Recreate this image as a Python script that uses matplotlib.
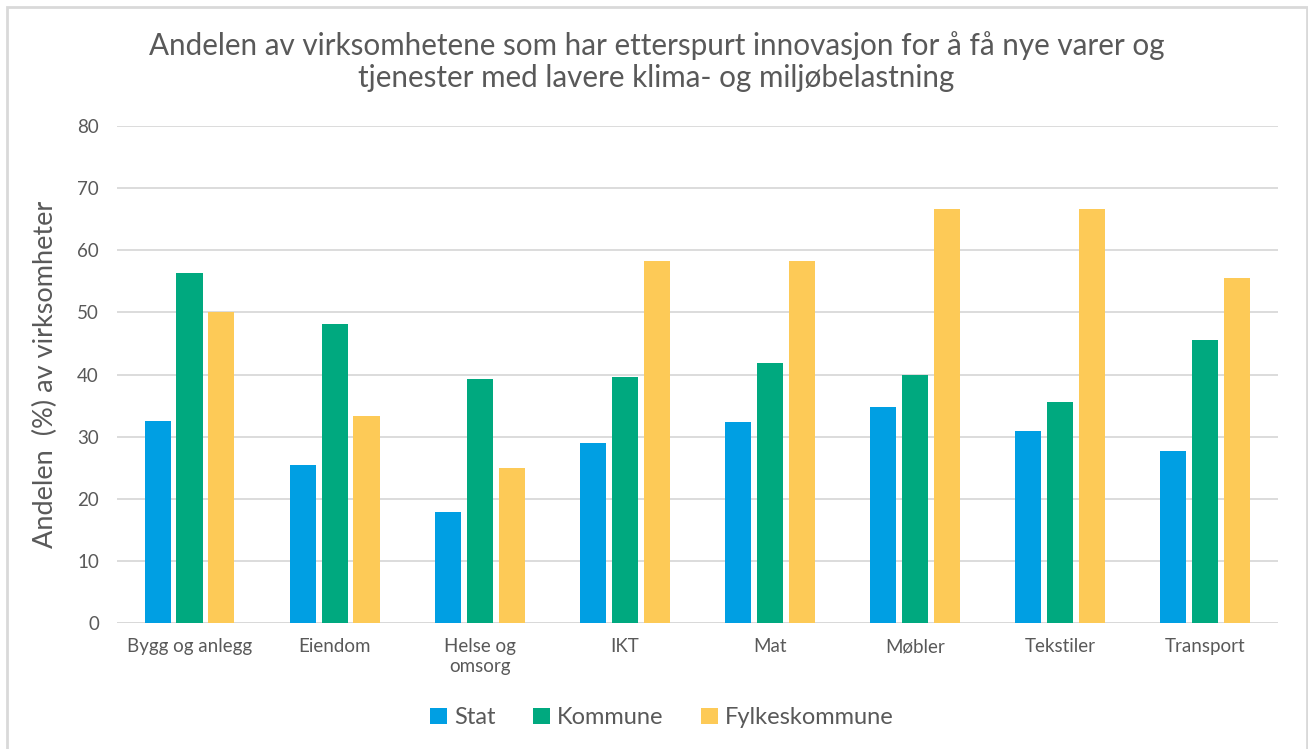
import numpy as np
import matplotlib
matplotlib.use('Agg')
import matplotlib.pyplot as plt
from matplotlib.patches import Rectangle

categories = ['Bygg og anlegg', 'Eiendom', 'Helse og\nomsorg', 'IKT', 'Mat',
              'Møbler', 'Tekstiler', 'Transport']
stat = [32.5, 25.4, 17.9, 29.0, 32.4, 34.8, 30.9, 27.7]
kommune = [56.3, 48.2, 39.3, 39.6, 41.9, 39.9, 35.5, 45.5]
fylke = [50.0, 33.3, 25.0, 58.3, 58.3, 66.7, 66.7, 55.6]
series = ['Stat', 'Kommune', 'Fylkeskommune']
colors = ['#009FE3', '#00A97F', '#FDCA57']

plt.rcParams['font.family'] = ['Lato', 'DejaVu Sans']
txt = '#595959'

fig = plt.figure(figsize=(13.08, 7.49), dpi=100)
ax = fig.add_axes([0.0894, 0.168, 0.8876, 0.664])

x = np.arange(len(categories))
w = 0.18
off = 0.22
for i, (vals, name, c) in enumerate(zip([stat, kommune, fylke], series, colors)):
    ax.bar(x + (i - 1) * off, vals, width=w, color=c, label=name, zorder=3)

ax.set_xlim(-0.5, len(categories) - 0.5)
ax.set_ylim(0, 80)
ax.set_yticks(range(0, 81, 10))
ax.yaxis.grid(True, color='#d9d9d9', linewidth=1.3, zorder=0)
for s in ax.spines.values():
    s.set_visible(False)
ax.axhline(0, color='#d9d9d9', linewidth=1.3, zorder=1)
ax.tick_params(axis='both', length=0, colors=txt, labelsize=13.5)
ax.tick_params(axis='y', pad=13)
ax.tick_params(axis='x', pad=11)
ax.set_xticks(x)
ax.set_xticklabels(categories, linespacing=1.2)
ax.set_ylabel('Andelen  (%) av virksomheter', fontsize=19.5, color=txt, labelpad=14)

fig.text(0.502, 0.918, 'Andelen av virksomhetene som har etterspurt innovasjon for å få nye varer og\n'
         'tjenester med lavere klima- og miljøbelastning',
         ha='center', va='center', fontsize=21.3, color=txt, linespacing=1.15)

leg = fig.legend(loc='center', bbox_to_anchor=(0.506, 0.042), ncol=3, frameon=False,
                 fontsize=17, handlelength=0.7, handleheight=0.7, handletextpad=0.3,
                 columnspacing=1.6, labelcolor=txt)

fig.patches.append(Rectangle((0.0055, -0.01), 0.9935, 1.0, transform=fig.transFigure,
                             fill=False, edgecolor='#d9d9d9', linewidth=2))

fig.savefig('out.png', dpi=100)
